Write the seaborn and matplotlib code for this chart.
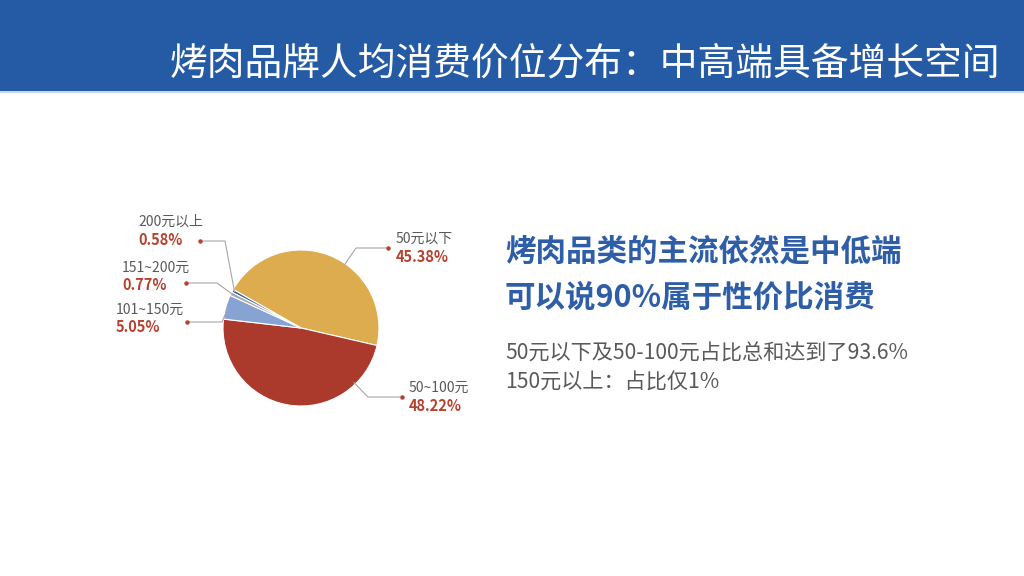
import matplotlib.pyplot as plt
import seaborn as sns
import numpy as np
from matplotlib.lines import Line2D
from matplotlib.patches import Rectangle
from matplotlib.transforms import IdentityTransform

# data
categories = ["50元以下", "50~100元", "101~150元", "151~200元", "200元以上"]
shares = [45.38, 48.22, 5.05, 0.77, 0.58]
slice_colors = ["#DDAC4E", "#AB3A2D", "#87A3D3", "#A6A6A6", "#2E5CA6"]

title = "烤肉品牌人均消费价位分布：中高端具备增长空间"
headline = ["烤肉品类的主流依然是中低端", "可以说90%属于性价比消费"]
notes = ["50元以下及50-100元占比总和达到了93.6%", "150元以上：占比仅1%"]

sns.set_theme(style="white")
plt.rcParams['font.family'] = ['Noto Sans CJK SC', 'DejaVu Sans']

W, H = 1024, 576
fig = plt.figure(figsize=(W / 100, H / 100), dpi=100)
fig.patch.set_facecolor("white")


def fpos(x, y):
    return x / W, 1 - y / H


# header band
fig.add_artist(Rectangle((0, 1 - 91 / H), 1, 91 / H, transform=fig.transFigure,
                         facecolor="#255BA5", edgecolor="none"))
fig.add_artist(Rectangle((0, 1 - 93 / H), 1, 2 / H, transform=fig.transFigure,
                         facecolor="#C9D6EA", edgecolor="none"))
fig.text(*fpos(1000, 64), title, color="white", fontsize=27.2,
         ha="right", va="center")

# pie
cx, cy, r = 301, 328, 78
ax = fig.add_axes([(cx - r) / W, (H - cy - r) / H, 2 * r / W, 2 * r / H])
wedges, _ = ax.pie(shares, colors=slice_colors, startangle=150.4, counterclock=False,
                   wedgeprops=dict(edgecolor="white", linewidth=0.8))
ax.set_xlim(-1, 1)
ax.set_ylim(-1, 1)
ax.set_aspect("equal")
ax.axis("off")

# label layout: (text x, category y, percent y, elbow x, elbow y, dot x, dot y)
layout = {
    "50元以下": (396, 239, 257, 356, 248, 388, 248),
    "50~100元": (409, 388, 406, 368, 397, 402, 397),
    "101~150元": (116, 310, 327, 222, 322, 187, 322),
    "151~200元": (122, 268, 285, 217, 283, 186, 283),
    "200元以上": (138, 222, 240, 225, 241, 200, 241),
}

for w, cat, val in zip(wedges, categories, shares):
    tx, ty1, ty2, ex, ey, dx, dy = layout[cat]
    lo, hi = sorted((w.theta1, w.theta2))
    # point the leader at the elbow, kept inside the wedge
    toward = np.degrees(np.arctan2(cy - ey, ex - cx))
    cand = [toward + k * 360 for k in (-1, 0, 1)]
    inside = [a for a in cand if lo + 1 <= a <= hi - 1]
    ang = np.deg2rad(inside[0] if inside else (lo + hi) / 2)
    ax_pt = ax.transData.transform((0.97 * np.cos(ang), 0.97 * np.sin(ang)))
    pts_x = [ax_pt[0], ex, dx]
    pts_y = [ax_pt[1], H - ey, H - dy]
    fig.add_artist(Line2D(pts_x, pts_y, transform=IdentityTransform(),
                          color="#A6A6A6", linewidth=0.8))
    fig.add_artist(Line2D([dx], [H - dy], transform=IdentityTransform(),
                          marker="o", markersize=2.2, color="#B8402F", linestyle="none"))
    fig.text(*fpos(tx, ty1), cat, fontsize=10, color="#595959", ha="left", va="center")
    fig.text(*fpos(tx, ty2), f"{val:.2f}%", fontsize=10.5, color="#B8402F",
             fontweight="bold", ha="left", va="center")

# right-hand commentary
for i, line in enumerate(headline):
    fig.text(*fpos(505, 251 + 47 * i), line, fontsize=22, color="#2E5EA8",
             fontweight="bold", ha="left", va="center")
for i, line in enumerate(notes):
    fig.text(*fpos(505, 354 + 29 * i), line, fontsize=15.2, color="#595959",
             ha="left", va="center")

fig.savefig("out.png", dpi=100)
